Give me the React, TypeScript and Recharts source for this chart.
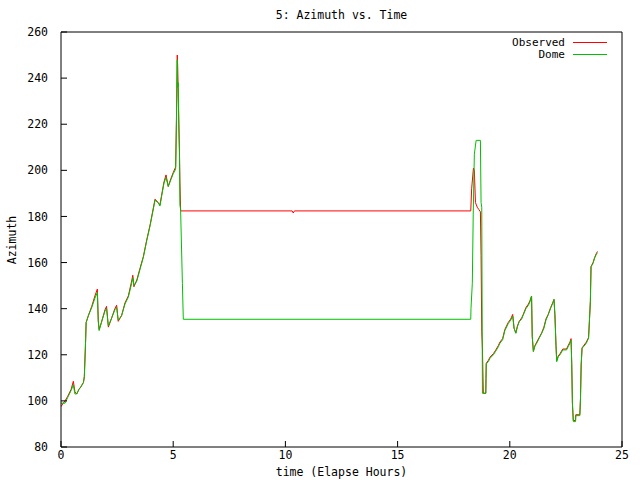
import { LineChart, Line, XAxis, YAxis, Legend } from 'recharts';

const FONT = '"DejaVu Sans Mono", "Liberation Mono", monospace';
const FONT_SIZE = 11.5;

const xTicks = [0, 5, 10, 15, 20, 25];
const yTicks = [80, 100, 120, 140, 160, 180, 200, 220, 240, 260];
const legendOrder = ['Observed', 'Dome'];

// Observed azimuth (hours, degrees)
const obsTime = [
  0, 0.1, 0.18, 0.3, 0.45, 0.55, 0.62, 0.7, 0.8, 0.88, 1.0, 1.04, 1.06, 1.1, 1.12, 1.22, 1.37, 1.51, 1.62, 1.66,
  1.7, 1.8, 1.96, 2.03, 2.11, 2.26, 2.4, 2.48, 2.55, 2.7, 2.85, 3.0, 3.15, 3.2, 3.25, 3.38, 3.52, 3.67, 3.82, 3.97,
  4.07, 4.19, 4.33, 4.41, 4.48, 4.59, 4.68, 4.78, 4.9, 5.0, 5.11, 5.15, 5.18, 5.2, 5.22, 5.25, 5.28, 5.3, 5.33,
  10.3, 10.35, 10.4, 18.26, 18.3, 18.38, 18.42, 18.47, 18.55, 18.62, 18.69, 18.72, 18.75, 18.78, 18.82, 18.93,
  18.94, 18.95, 19.04, 19.12, 19.27, 19.37, 19.49, 19.56, 19.68, 19.78, 19.93, 20.04, 20.13, 20.19, 20.27, 20.34,
  20.42, 20.53, 20.6, 20.72, 20.83, 20.9, 20.97, 21.0, 21.05, 21.12, 21.2, 21.31, 21.42, 21.52, 21.61, 21.71,
  21.82, 21.91, 21.97, 22.01, 22.06, 22.09, 22.16, 22.24, 22.36, 22.53, 22.6, 22.68, 22.73, 22.76, 22.79, 22.83,
  22.93, 22.94, 23.12, 23.15, 23.18, 23.22, 23.31, 23.41, 23.51, 23.59, 23.62, 23.71, 23.78, 23.86, 23.91,
];
const obsAz = [
  97.5, 99, 100, 102, 105, 108.5, 104, 103, 105, 106, 108, 110.5, 116, 127, 134, 137, 141, 145.5, 148.5, 135,
  131, 134, 139.5, 141, 132, 136, 140, 141.5, 134.5, 137, 142.5, 145.5, 152, 154.5, 149.5, 152.5, 157.5, 162.6, 169.8, 176.3,
  181.4, 187.5, 186, 185, 189, 195, 198, 193, 196.5, 199, 201.5, 226, 250, 245, 236, 220, 208, 195, 182.4,
  182.4, 181.5, 182.4, 182.4, 192, 201, 200, 186, 184, 183, 182, 163, 130, 123, 103.3, 103.3,
  109.8, 116.3, 117.5, 119, 120.5, 122, 124, 125.5, 127, 131, 134, 135.5, 137.5, 131.5, 129.5, 132.5,
  134.5, 136, 137.5, 140.5, 142, 143.5, 145.5, 128, 121.5, 124, 125.5, 127.5, 129.5, 132, 135.5, 137.5,
  140.5, 142.5, 144, 137.5, 124, 117.5, 119.5, 120.5, 122.5, 122.5, 124, 125.5, 127, 116.3, 99, 91.5,
  91.5, 94, 94, 101, 115.6, 123, 124.2, 125.5, 127.5, 143, 158.2, 160, 162.2, 164, 164.8,
];

// Dome azimuth (hours, degrees)
const domeTime = [
  0, 0.1, 0.18, 0.3, 0.45, 0.55, 0.62, 0.7, 0.8, 0.88, 1.0, 1.04, 1.06, 1.1, 1.12, 1.22, 1.37, 1.51, 1.62, 1.66,
  1.7, 1.8, 1.96, 2.03, 2.11, 2.26, 2.4, 2.48, 2.55, 2.7, 2.85, 3.0, 3.15, 3.2, 3.25, 3.38, 3.52, 3.67, 3.82, 3.97,
  4.07, 4.19, 4.33, 4.41, 4.48, 4.59, 4.68, 4.78, 4.9, 5.0, 5.11, 5.15, 5.18, 5.2, 5.22, 5.25, 5.28, 5.3, 5.33,
  5.41, 5.45, 18.26, 18.27, 18.33, 18.37, 18.42, 18.5, 18.69, 18.72, 18.75, 18.78, 18.93,
  18.94, 18.95, 19.04, 19.12, 19.27, 19.37, 19.49, 19.56, 19.68, 19.78, 19.93, 20.04, 20.13, 20.19, 20.27, 20.34,
  20.42, 20.53, 20.6, 20.72, 20.83, 20.9, 20.97, 21.0, 21.05, 21.12, 21.2, 21.31, 21.42, 21.52, 21.61, 21.71,
  21.82, 21.91, 21.97, 22.01, 22.06, 22.09, 22.16, 22.24, 22.36, 22.53, 22.6, 22.68, 22.73, 22.76, 22.79, 22.83,
  22.93, 22.94, 23.12, 23.15, 23.18, 23.22, 23.31, 23.41, 23.51, 23.59, 23.62, 23.71, 23.78, 23.86, 23.91,
];
const domeAz = [
  99, 99, 99, 101.5, 104.5, 107, 103, 103, 105, 106, 108, 110.5, 116, 127, 134, 137, 140.5, 144.5, 147, 134.5,
  130.5, 134, 139, 140, 132.5, 136, 139.5, 140.5, 135, 137, 142, 145, 151, 153.5, 150, 152, 157, 162.3, 169.5, 176,
  181, 187, 186, 184.5, 188.5, 194.5, 197, 193, 196, 198.5, 200.5, 224, 248, 236, 238, 222, 207, 185, 183,
  151, 135.4, 135.4, 140, 151, 181, 207, 213, 213, 186, 184, 103.3, 103.3,
  109.8, 116, 117, 118.5, 120, 121.5, 123.5, 125, 126.5, 130.5, 133.5, 135, 136.8, 131.5, 129.3, 132.2,
  134.4, 135.5, 137.3, 140, 141.5, 143, 145.5, 128, 121.4, 123.8, 125, 127.2, 129.3, 131.5, 135, 137.3,
  140.2, 142.3, 144, 137.3, 123.5, 117, 119.2, 120, 122.1, 122.1, 123.5, 125, 126.4, 116.3, 99, 91,
  91, 93.6, 93.6, 101, 115.6, 122.8, 123.8, 125, 127.2, 143, 158.2, 159.7, 161.9, 163.7, 164.2,
];

const tickStyle = { fill: '#000', fontSize: FONT_SIZE, fontFamily: FONT };

function GnuLegend({ payload }: any) {
  const items = [...(payload || [])].sort(
    (a: any, b: any) => legendOrder.indexOf(a.value) - legendOrder.indexOf(b.value),
  );
  return (
    <div style={{ fontFamily: FONT, fontSize: 11, lineHeight: '11px', color: '#000' }}>
      {items.map((it: any) => (
        <div
          key={it.value}
          style={{ display: 'flex', alignItems: 'center', justifyContent: 'flex-end', height: 12 }}
        >
          <span>{it.value}</span>
          <span
            style={{
              display: 'inline-block',
              width: 34,
              height: 0,
              borderTop: `1px solid ${it.color}`,
              marginLeft: 8,
            }}
          />
        </div>
      ))}
    </div>
  );
}

export default function App() {
  const obsData = obsTime.map((t, i) => ({ t, az: obsAz[i] }));
  const domeData = domeTime.map((t, i) => ({ t, az: domeAz[i] }));

  return (
    <div
      style={{
        position: 'absolute',
        left: 0,
        top: 0,
        width: 640,
        height: 480,
        background: '#fff',
        fontFamily: FONT,
      }}
    >
      <div
        style={{
          position: 'absolute',
          top: 8,
          left: 61,
          width: 561,
          textAlign: 'center',
          fontSize: FONT_SIZE,
          lineHeight: '14px',
        }}
      >
        5: Azimuth vs. Time
      </div>
      <div
        style={{
          position: 'absolute',
          top: 465,
          left: 61,
          width: 561,
          textAlign: 'center',
          fontSize: FONT_SIZE,
          lineHeight: '14px',
        }}
      >
        time (Elapse Hours)
      </div>
      <div
        style={{
          position: 'absolute',
          top: 233,
          left: -18,
          width: 60,
          textAlign: 'center',
          fontSize: FONT_SIZE,
          lineHeight: '14px',
          transform: 'rotate(-90deg)',
        }}
      >
        Azimuth
      </div>
      <LineChart width={640} height={480} margin={{ top: 0, right: 0, bottom: 0, left: 0 }}>
        <XAxis
          xAxisId="b"
          type="number"
          dataKey="t"
          domain={[0, 25]}
          ticks={xTicks}
          orientation="bottom"
          height={33}
          tickSize={-6}
          tickMargin={10}
          stroke="#000"
          tick={tickStyle}
          allowDataOverflow
        />
        <XAxis
          xAxisId="t"
          type="number"
          domain={[0, 25]}
          ticks={xTicks}
          orientation="top"
          height={32}
          tickSize={-6}
          tick={false}
          stroke="#000"
          allowDataOverflow
        />
        <YAxis
          yAxisId="l"
          type="number"
          domain={[80, 260]}
          ticks={yTicks}
          width={61}
          tickSize={-6}
          tickMargin={19}
          stroke="#000"
          tick={tickStyle}
          allowDataOverflow
        />
        <YAxis
          yAxisId="r"
          type="number"
          orientation="right"
          domain={[80, 260]}
          ticks={yTicks}
          width={18}
          tickSize={-6}
          tick={false}
          stroke="#000"
          allowDataOverflow
        />
        <Line
          xAxisId="b"
          yAxisId="l"
          data={obsData}
          dataKey="az"
          name="Observed"
          type="linear"
          stroke="#ff0000"
          strokeWidth={1}
          dot={false}
          activeDot={false}
          isAnimationActive={false}
        />
        <Line
          xAxisId="b"
          yAxisId="l"
          data={domeData}
          dataKey="az"
          name="Dome"
          type="linear"
          stroke="#00c000"
          strokeWidth={1}
          dot={false}
          activeDot={false}
          isAnimationActive={false}
        />
        <Legend
          layout="vertical"
          align="center"
          verticalAlign="middle"
          wrapperStyle={{ position: 'absolute', top: 36, left: 470, width: 137 }}
          content={GnuLegend}
        />
      </LineChart>
    </div>
  );
}
